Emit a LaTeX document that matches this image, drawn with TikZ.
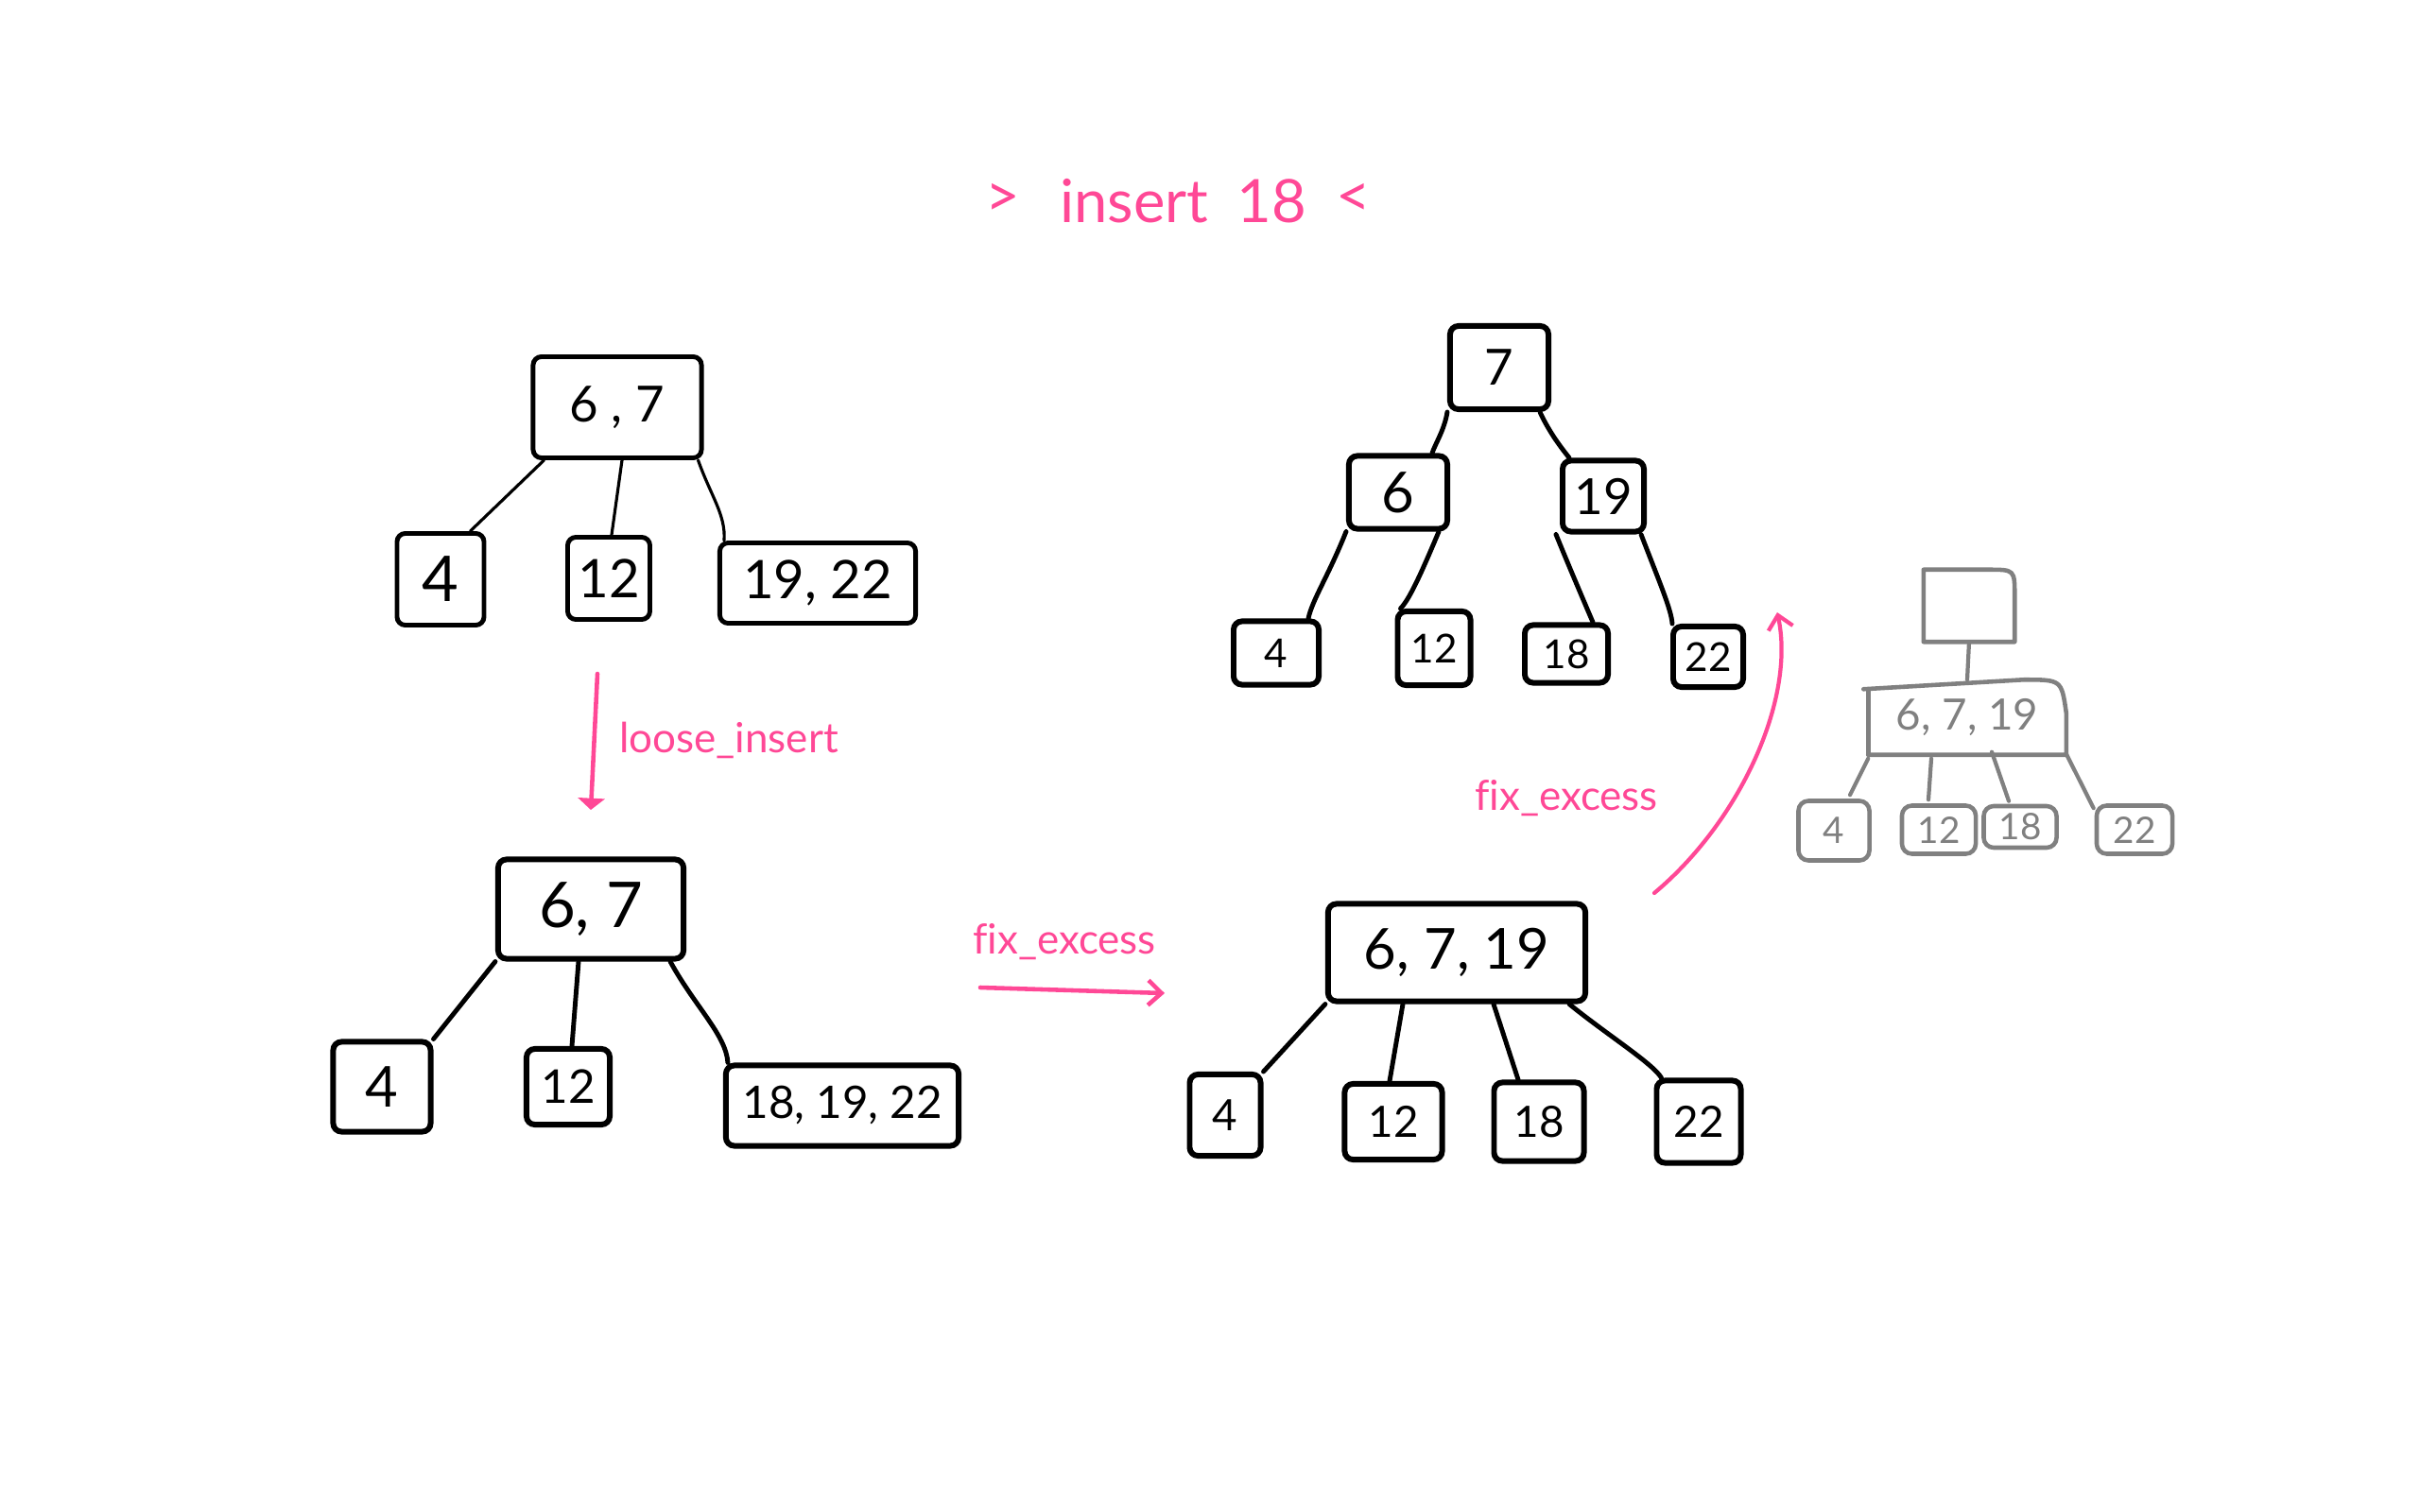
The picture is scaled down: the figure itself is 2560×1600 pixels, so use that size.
\documentclass[tikz,border=0pt]{standalone}
\usepackage{fontspec}
\setmainfont{Lato}[Ligatures=NoCommon]
\usetikzlibrary{arrows.meta,calc}
\definecolor{hlpink}{RGB}{255,72,150}
\definecolor{ghost}{RGB}{128,128,128}
\begin{document}
\begin{tikzpicture}[x=0.01cm,y=-0.01cm,
  fs/.style={font=\fontsize{#1}{#1}\selectfont},
  wh/.style 2 args={minimum width=#1cm,minimum height=#2cm},
  box/.style={draw=black,line width=1.7pt,rectangle,inner sep=0pt,rounded corners=2.5pt},
  thinbox/.style={box,line width=1.4pt},
  gbox/.style={draw=ghost,text=ghost,line width=1.3pt,rectangle,inner sep=0pt,rounded corners=3pt},
  gnode/.style={draw=none,text=ghost,rectangle,inner sep=0pt},
  edge/.style={draw=black,line width=1.4pt,line cap=round},
  thinedge/.style={draw=black,line width=0.9pt,line cap=round},
  gedge/.style={draw=ghost,line width=1.2pt,line cap=round},
  gline/.style={draw=ghost,line width=1.3pt,line cap=round,line join=round},
  parrow/.style={draw=hlpink,line width=1.3pt,line cap=round},
  ptext/.style={text=hlpink,inner sep=0pt},
  title/.style={ptext,fs=18}]
\useasboundingbox (0,0) rectangle (2560,1600);

% ---------- title ----------
\node[title] (tgt) at (1061,212) {>};
\node[title] (tins) at (1200,213) {insert};
\node[title] (t18) at (1345,213) {18};
\node[title] (tlt) at (1432,212) {<};

% ---------- tree 1 ----------
\node[thinbox,wh={1.78}{1.07},fs=15] (t1r) at (653,431) {6 , 7};
\node[thinbox,wh={0.92}{0.97},fs=19] (t1a) at (466,613) {4};
\node[thinbox,wh={0.87}{0.87},fs=16] (t1b) at (644,612) {12};
\node[thinbox,wh={2.07}{0.85},fs=16] (t1c) at (865,617) {19, 22};
\draw[thinedge] ($(t1r.south west)+(14,0)$) -- ($(t1a.north east)+(-17,0)$);
\draw[thinedge] ($(t1r.south)+(5,0)$) -- ($(t1b.north)+(3,0)$);
\draw[thinedge] ($(t1r.south east)+(-6,0)$) .. controls (752,525) and (768,545) .. ($(t1c.north west)+(7,0)$);

% ---------- loose_insert ----------
\coordinate (li1) at (632,713);
\coordinate (li2) at (625,857);
\draw[parrow,-{Triangle[width=8pt,length=3.5pt]}] (li1) -- (li2);
\node[ptext,fs=12.5] (lil) at (771,783) {loose\_insert};

% ---------- tree 2 ----------
\node[box,wh={1.96}{1.05},fs=19] (t2r) at (625,962) {6, 7};
\node[box,wh={1.03}{0.95},fs=17] (t2a) at (404,1150) {4};
\node[box,wh={0.88}{0.80},fs=14] (t2b) at (601,1150) {12};
\node[box,wh={2.46}{0.85},fs=13.5] (t2c) at (891,1170) {18, 19, 22};
\draw[edge] (t2r.south west) -- (t2a.north east);
\draw[edge] ($(t2r.south)+(-13,0)$) -- ($(t2b.north)+(4,0)$);
\draw[edge] ($(t2r.south east)+(-17,0)$) .. controls (735,1065) and (768,1095) .. ($(t2c.north west)+(5,0)$);

% ---------- fix_excess (horizontal) ----------
\node[ptext,fs=12.5] (fx1) at (1126,997) {fix\_excess};
\coordinate (fa1) at (1037,1045);
\coordinate (fa2) at (1232,1051);
\draw[parrow,-{Straight Barb[length=4pt,width=7.5pt]}] (fa1) -- (fa2);

% ---------- tree 3 ----------
\node[box,wh={2.72}{1.03},fs=17] (t3r) at (1541,1008) {6, 7, 19};
\node[box,wh={0.75}{0.86},fs=13] (t3a) at (1296,1180) {4};
\node[box,wh={1.03}{0.80},fs=13] (t3b) at (1474,1187) {12};
\node[box,wh={0.95}{0.83},fs=13] (t3c) at (1628,1187) {18};
\node[box,wh={0.89}{0.87},fs=13] (t3d) at (1797,1187) {22};
\draw[edge] (t3r.south west) -- (t3a.north east);
\draw[edge] ($(t3r.south)+(-57,0)$) -- ($(t3b.north)+(-4,0)$);
\draw[edge] ($(t3r.south)+(39,0)$) -- ($(t3c.north)+(-22,0)$);
\draw[edge] ($(t3r.south east)+(-20,0)$) .. controls (1700,1095) and (1748,1125) .. ($(t3d.north west)+(8,0)$);

% ---------- fix_excess (curved) ----------
\node[ptext,fs=12.5] (fx2) at (1657,845) {fix\_excess};
\coordinate (ca1) at (1750,945);
\coordinate (ca2) at (1880,648);
\draw[parrow,line width=1.2pt,-{Straight Barb[length=4pt,width=7.5pt]}] (ca1) .. controls (1840,870) and (1900,740) .. (ca2);

% ---------- tree 4 ----------
\node[box,wh={1.04}{0.88},fs=15] (t4r) at (1586,389) {7};
\node[box,wh={1.04}{0.77},fs=17] (t4l) at (1479,521) {6};
\node[box,wh={0.86}{0.75},fs=15] (t4m) at (1696,525) {19};
\node[box,wh={0.90}{0.67},fs=12] (t4a) at (1350,691) {4};
\node[box,wh={0.77}{0.78},fs=12] (t4b) at (1517,686) {12};
\node[box,wh={0.88}{0.61},fs=12] (t4c) at (1657,692) {18};
\node[box,wh={0.74}{0.64},fs=12] (t4d) at (1807,695) {22};
\draw[edge] (t4r.south west) .. controls (1528,455) and (1518,470) .. ($(t4l.north east)+(-19,0)$);
\draw[edge] ($(t4r.south east)+(-12,0)$) .. controls (1640,460) and (1655,478) .. ($(t4m.north west)+(10,0)$);
\draw[edge] (t4l.south west) .. controls (1405,610) and (1388,635) .. ($(t4a.north east)+(-14,0)$);
\draw[edge] ($(t4l.south east)+(-12,0)$) .. controls (1500,615) and (1490,635) .. ($(t4b.north west)+(6,0)$);
\draw[edge] ($(t4m.south west)+(-4,0)$) .. controls (1660,600) and (1675,635) .. ($(t4c.north east)+(-19,0)$);
\draw[edge] ($(t4m.south east)+(-6,0)$) .. controls (1755,615) and (1768,645) .. ($(t4d.north west)+(2,0)$);

% ---------- ghost tree ----------
\node[gnode,wh={0.95}{0.75}] (g0) at (2083,641) {};
\node[gnode,wh={2.08}{0.78},fs=13] (g1) at (2081,759) {6, 7, 19};
\draw[gline] (g0.south west) -- (g0.north west) -- ($(g0.north east)+(-28,0)$)
  .. controls (g0.north east) .. ($(g0.north east)+(0,28)$) -- (g0.south east) -- cycle;
\draw[gline] (g1.south west) -- ($(g1.north west)+(0,10)$);
\draw[gline] ($(g1.north west)+(-5,10)$) -- ($(g1.north east)+(-45,0)$)
  .. controls ($(g1.north east)+(-5,0)$) .. ($(g1.north east)+(0,35)$) -- (g1.south east) -- (g1.south west);
\node[gbox,wh={0.75}{0.63},fs=11] (ga) at (1940,879) {4};
\node[gbox,wh={0.78}{0.51},fs=11] (gb) at (2051,878) {12};
\node[gbox,wh={0.77}{0.44},fs=11] (gc) at (2137,875) {18};
\node[gbox,wh={0.80}{0.51},fs=11] (gd) at (2258,878) {22};
\draw[gedge] (g0.south) -- (g1.north);
\draw[gedge] ($(g1.south west)+(0,4)$) -- ($(ga.north)+(17,-4)$);
\draw[gedge] ($(g1.south)+(-38,4)$) -- ($(gb.north)+(-11,-4)$);
\draw[gedge] ($(g1.south)+(26,-3)$) -- ($(gc.north)+(-12,-3)$);
\draw[gedge] ($(g1.south east)+(0,-1)$) -- ($(gd.north west)+(-1,5)$);
\end{tikzpicture}
\end{document}
